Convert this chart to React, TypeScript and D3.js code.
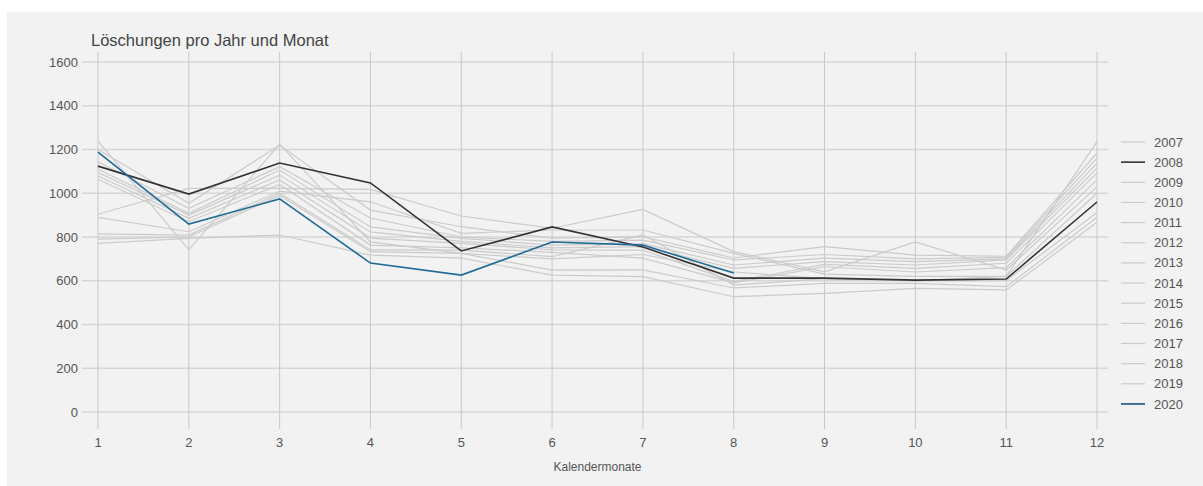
import React from "react";
import * as d3 from "d3";

const months = [1, 2, 3, 4, 5, 6, 7, 8, 9, 10, 11, 12];
const yTicks = [0, 200, 400, 600, 800, 1000, 1200, 1400, 1600];
const years = ["2007", "2008", "2009", "2010", "2011", "2012", "2013", "2014", "2015", "2016", "2017", "2018", "2019", "2020"];

const s2007 = [1239, 741, 1225, 778, 725, 700, 720, 640, 610, 600, 620, 1236];
const s2008 = [1124, 996, 1138, 1047, 736, 846, 754, 612, 612, 603, 608, 960];
const s2009 = [1200, 954, 1220, 923, 847, 795, 801, 704, 756, 717, 712, 1184];
const s2010 = [1144, 931, 1121, 887, 800, 780, 786, 695, 720, 700, 707, 1161];
const s2011 = [1110, 908, 1106, 846, 794, 763, 770, 672, 703, 687, 700, 1138];
const s2012 = [1095, 900, 1083, 823, 780, 750, 756, 657, 687, 672, 695, 1115];
const s2013 = [1079, 885, 1061, 795, 771, 741, 740, 596, 675, 657, 680, 1093];
const s2014 = [1064, 870, 1040, 763, 750, 730, 703, 590, 664, 640, 660, 1061];
const s2015 = [904, 1022, 1022, 1018, 896, 840, 926, 733, 641, 778, 649, 1029];
const s2016 = [890, 824, 1010, 961, 817, 832, 832, 725, 630, 620, 620, 1000];
const s2017 = [814, 809, 1000, 741, 740, 710, 810, 580, 610, 600, 600, 912];
const s2018 = [790, 800, 990, 733, 725, 649, 650, 567, 588, 588, 573, 890];
const s2019 = [771, 794, 809, 717, 703, 626, 619, 527, 542, 565, 558, 867];
const s2020 = [1188, 859, 974, 681, 626, 777, 763, 635];

const seriesValues = [s2007, s2008, s2009, s2010, s2011, s2012, s2013, s2014, s2015, s2016, s2017, s2018, s2019, s2020];

const GRAY = "#cbcbcb";
const colorOf = (y: string) => (y === "2008" ? "#333333" : y === "2020" ? "#1f6a96" : GRAY);

export default function App() {
  const W = 1203, H = 486;
  const x = d3.scaleLinear().domain([1, 12]).range([98, 1097]);
  const y = d3.scaleLinear().domain([0, 1600]).range([412, 62]);
  const line = d3.line<number>().x((_, i) => x(months[i])).y((d) => y(d));
  const font = "'Liberation Sans', Arial, sans-serif";

  const order = years.map((yr, i) => ({ yr, vals: seriesValues[i] }));
  const drawOrder = [
    ...order.filter((o) => o.yr !== "2008" && o.yr !== "2020"),
    ...order.filter((o) => o.yr === "2008"),
    ...order.filter((o) => o.yr === "2020"),
  ];

  return (
    <svg width={W} height={H} style={{ position: "absolute", left: 0, top: 0, display: "block" }} fontFamily={font}>
      <rect x={0} y={0} width={W} height={H} fill="#ffffff" />
      <rect x={7} y={12} width={W - 7} height={H - 12} fill="#f2f2f2" />
      {yTicks.map((t) => (
        <g key={"y" + t}>
          <line x1={82} x2={1108} y1={y(t)} y2={y(t)} stroke="#d6d6d6" strokeWidth={1.5} />
          <text x={78} y={y(t)} dy="0.35em" textAnchor="end" fontSize={13} fill="#555">{t}</text>
        </g>
      ))}
      {months.map((m) => (
        <g key={"x" + m}>
          <line x1={x(m)} x2={x(m)} y1={52} y2={429} stroke="#c8c8c8" strokeWidth={1} />
          <text x={x(m)} y={447} textAnchor="middle" fontSize={13} fill="#555">{m}</text>
        </g>
      ))}
      {drawOrder.map((o) => (
        <path key={o.yr} d={line(o.vals) || ""} fill="none" stroke={colorOf(o.yr)} strokeWidth={o.yr === "2008" || o.yr === "2020" ? 1.6 : 1.2} />
      ))}
      <text x={91} y={46} fontSize={16.5} fill="#444">Löschungen pro Jahr und Monat</text>
      <text x={(x(1) + x(12)) / 2} y={471} textAnchor="middle" fontSize={12} fill="#555">Kalendermonate</text>
      {years.map((yr, i) => {
        const ly = 142 + i * 20.15;
        return (
          <g key={"l" + yr}>
            <line x1={1121} x2={1145} y1={ly} y2={ly} stroke={yr === "2020" ? "#1a4f78" : colorOf(yr)} strokeWidth={yr === "2008" || yr === "2020" ? 1.6 : 1.2} />
            <text x={1154} y={ly} dy="0.35em" fontSize={13} fill="#555">{yr}</text>
          </g>
        );
      })}
    </svg>
  );
}
